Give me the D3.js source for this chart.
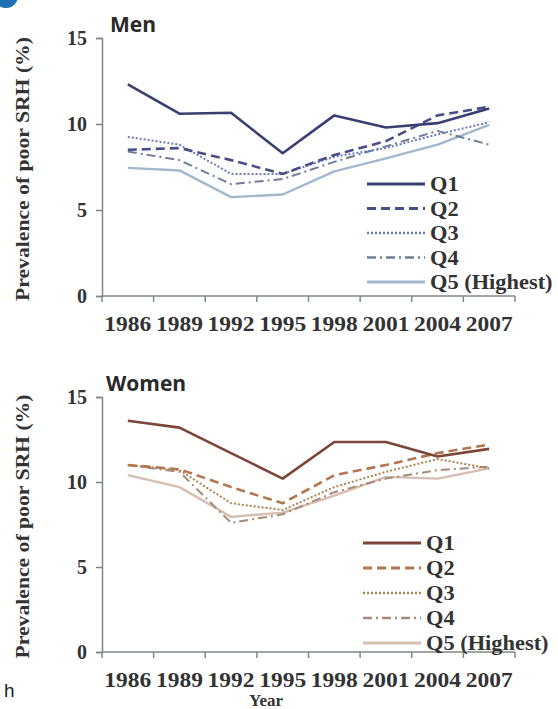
<!DOCTYPE html>
<html>
<head>
<meta charset="utf-8">
<script src="https://cdn.jsdelivr.net/npm/d3@7"></script>
<style>
  body { margin: 0; background: white; }
  svg { display: block; }
</style>
</head>
<body>
<div id="container"></div>
<script>
const years = ['1986', '1989', '1992', '1995', '1998', '2001', '2004', '2007']
const yTicks = [0, 5, 10, 15]
const groups = ['Q1', 'Q2', 'Q3', 'Q4', 'Q5 (Highest)']

const menQ1 = [12.3, 10.6, 10.65, 8.3, 10.5, 9.8, 10.05, 10.9]
const menQ2 = [8.5, 8.6, 7.9, 7.1, 8.2, 9.0, 10.5, 11.0]
const menQ3 = [9.25, 8.8, 7.1, 7.1, 8.1, 8.6, 9.4, 10.1]
const menQ4 = [8.4, 7.9, 6.5, 6.8, 7.8, 8.7, 9.6, 8.8]
const menQ5 = [7.45, 7.3, 5.75, 5.9, 7.25, 8.0, 8.8, 9.95]

const womenQ1 = [13.6, 13.2, 11.7, 10.2, 12.35, 12.35, 11.5, 11.95]
const womenQ2 = [11.0, 10.75, 9.7, 8.75, 10.4, 11.0, 11.7, 12.2]
const womenQ3 = [11.0, 10.7, 8.75, 8.35, 9.7, 10.6, 11.35, 10.8]
const womenQ4 = [11.0, 10.6, 7.6, 8.1, 9.4, 10.2, 10.7, 10.9]
const womenQ5 = [10.4, 9.7, 7.95, 8.2, 9.2, 10.3, 10.2, 10.8]

const w = 558
const h = 709
const serif = '"Liberation Serif", "DejaVu Serif", serif'

const svg = d3.select('#container')
  .append('svg')
    .attr('width', w)
    .attr('height', h)

// line styles per quintile
const dashes = [null, '9,5', '2,2', '9,4,2,4', null]
const widths = [2.6, 2.6, 2, 2, 2.4]

const menColors = ['#3a3f72', '#474f86', '#6b79c2', '#707b98', '#a3b7cf']
const womenColors = ['#7b4638', '#b27650', '#a88452', '#a68b7c', '#d6bfb0']

const drawPanel = (cfg) => {
  const scaleX = d3.scaleBand()
    .domain(years)
    .range([102, 515])

  const scaleY = d3.scaleLinear()
    .domain([0, 15])
    .range([cfg.bottom, cfg.top])

  const g = svg.append('g')

  // axes
  const axisY = d3.axisLeft(scaleY).tickValues(yTicks).tickSize(6).tickPadding(9)
  g.append('g')
    .attr('transform', `translate(102, 0)`)
    .call(axisY)
    .call(a => a.select('.domain').attr('stroke', '#7f8a84').attr('stroke-width', 1.5))
    .call(a => a.selectAll('.tick line').attr('stroke', '#7f8a84').attr('stroke-width', 1.5))
    .call(a => a.selectAll('text')
      .attr('font-family', serif).attr('font-weight', 'bold')
      .attr('font-size', 20).attr('fill', '#333'))

  g.append('line')
    .attr('x1', 102).attr('x2', 515)
    .attr('y1', cfg.bottom).attr('y2', cfg.bottom)
    .attr('stroke', '#7f8a84').attr('stroke-width', 1.5)

  const bounds = years.map(d => scaleX(d)).concat([scaleX.range()[1]])
  g.selectAll('.xtick')
    .data(bounds)
    .enter()
    .append('line')
      .attr('x1', d => d).attr('x2', d => d)
      .attr('y1', cfg.bottom).attr('y2', cfg.bottom + 6)
      .attr('stroke', '#7f8a84').attr('stroke-width', 1.5)

  g.selectAll('.xlabel')
    .data(years)
    .enter()
    .append('text')
      .attr('x', d => scaleX(d) + scaleX.bandwidth() / 2)
      .attr('y', cfg.bottom + 35)
      .attr('text-anchor', 'middle')
      .attr('font-family', serif)
      .attr('font-weight', 'bold')
      .attr('font-size', 21)
      .attr('textLength', 47)
      .attr('lengthAdjust', 'spacingAndGlyphs')
      .attr('fill', '#333')
      .text(d => d)

  // y label
  g.append('text')
    .attr('transform', `translate(29, ${(cfg.bottom + cfg.top) / 2 + 2}) rotate(-90)`)
    .attr('text-anchor', 'middle')
    .attr('font-family', serif)
    .attr('font-weight', 'bold')
    .attr('font-size', 19)
    .attr('textLength', 264)
    .attr('lengthAdjust', 'spacingAndGlyphs')
    .attr('fill', '#333')
    .text('Prevalence of poor SRH (%)')

  // title
  g.append('text')
    .attr('x', cfg.titleX)
    .attr('y', cfg.top - 6)
    .attr('font-family', '"Open Sans", "DejaVu Sans", sans-serif')
    .attr('font-weight', 'bold')
    .attr('font-size', 21)
    .attr('fill', '#2a2a2a')
    .text(cfg.title)

  const line = d3.line()
    .x((d, i) => scaleX(years[i]) + scaleX.bandwidth() / 2)
    .y(d => scaleY(d))

  // draw lowest quintile last so Q1 sits on top
  const order = [4, 3, 2, 1, 0]
  order.forEach(i => {
    g.append('path')
      .attr('d', line(cfg.series[i]))
      .attr('fill', 'none')
      .attr('stroke', cfg.colors[i])
      .attr('stroke-width', widths[i])
      .attr('stroke-dasharray', dashes[i])
      .attr('stroke-linejoin', 'round')
  })

  // legend
  const legend = g.append('g')
  groups.forEach((name, i) => {
    const ly = cfg.legendY + i * cfg.legendStep
    legend.append('line')
      .attr('x1', cfg.legendX).attr('x2', cfg.legendX + 58)
      .attr('y1', ly).attr('y2', ly)
      .attr('stroke', cfg.colors[i])
      .attr('stroke-width', widths[i] + 0.6)
      .attr('stroke-dasharray', dashes[i])
    const t = legend.append('text')
      .attr('x', cfg.legendX + 63)
      .attr('y', ly + 7)
      .attr('font-family', serif)
      .attr('font-weight', 'bold')
      .attr('font-size', 20)
      .attr('fill', '#333')
      .text(name)
    // stretch a little, the original face is wider
    const len = t.node().getComputedTextLength()
    t.attr('textLength', len * 1.12).attr('lengthAdjust', 'spacingAndGlyphs')
  })
}

drawPanel({
  title: 'Men', titleX: 110, top: 38, bottom: 296,
  series: [menQ1, menQ2, menQ3, menQ4, menQ5], colors: menColors,
  legendX: 367, legendY: 184, legendStep: 24.5
})

drawPanel({
  title: 'Women', titleX: 106, top: 397, bottom: 652,
  series: [womenQ1, womenQ2, womenQ3, womenQ4, womenQ5], colors: womenColors,
  legendX: 363, legendY: 543, legendStep: 25
})

svg.append('text')
  .attr('x', 266).attr('y', 706)
  .attr('text-anchor', 'middle')
  .attr('font-family', serif)
  .attr('font-weight', 'bold')
  .attr('font-size', 17)
  .attr('fill', '#333')
  .text('Year')

svg.append('text')
  .attr('x', 4).attr('y', 697)
  .attr('font-family', '"Liberation Sans", Arial, sans-serif')
  .attr('font-size', 19)
  .attr('fill', '#222')
  .text('h')

// panel marker peeking in at the corner
svg.append('circle')
  .attr('cx', 6).attr('cy', -4)
  .attr('r', 12)
  .attr('fill', '#1f6fb4')
</script>
</body>
</html>
